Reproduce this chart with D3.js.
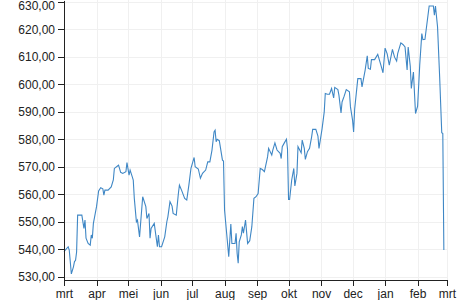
<!DOCTYPE html>
<meta charset="utf-8">
<style>
body { margin: 0; background: #fff; }
.grid line { stroke: #f0f0f0; shape-rendering: crispEdges; }
.axis text { font-family: "Liberation Sans", Arial, sans-serif; font-size: 12px; fill: #222; }
.axis path, .axis line { stroke: #222; shape-rendering: crispEdges; }
.line { fill: none; stroke: #3f87c5; stroke-width: 1.1; }
</style>
<body>
<script src="https://d3js.org/d3.v7.min.js"></script>
<script>

// closing values, one per trading day
var dates = [
  "2021-03-01","2021-03-05","2021-03-06","2021-03-08","2021-03-10","2021-03-11","2021-03-12","2021-03-13","2021-03-14","2021-03-18",
  "2021-03-20","2021-03-21","2021-03-22","2021-03-24","2021-03-26","2021-03-27","2021-03-28","2021-03-29","2021-04-01","2021-04-03",
  "2021-04-05","2021-04-07","2021-04-08","2021-04-09","2021-04-12","2021-04-15","2021-04-17","2021-04-18","2021-04-21","2021-04-22",
  "2021-04-24","2021-04-26","2021-04-29","2021-04-30","2021-05-02","2021-05-03","2021-05-05","2021-05-06","2021-05-07","2021-05-09",
  "2021-05-10","2021-05-12","2021-05-15","2021-05-18","2021-05-19","2021-05-21","2021-05-22","2021-05-23","2021-05-26","2021-05-29",
  "2021-05-30","2021-05-31","2021-06-02","2021-06-05","2021-06-07","2021-06-08","2021-06-10","2021-06-12","2021-06-13","2021-06-16",
  "2021-06-18","2021-06-19","2021-06-21","2021-06-24","2021-06-26","2021-06-28","2021-06-30","2021-07-03","2021-07-04","2021-07-07",
  "2021-07-09","2021-07-11","2021-07-14","2021-07-16","2021-07-18","2021-07-20","2021-07-22","2021-07-23","2021-07-24","2021-07-25",
  "2021-07-27","2021-07-30","2021-07-31","2021-08-01","2021-08-03","2021-08-05","2021-08-07","2021-08-08","2021-08-11","2021-08-12",
  "2021-08-13","2021-08-14","2021-08-15","2021-08-17","2021-08-18","2021-08-19","2021-08-21","2021-08-23","2021-08-25","2021-08-27",
  "2021-08-29","2021-08-31","2021-09-02","2021-09-04","2021-09-06","2021-09-08","2021-09-11","2021-09-12","2021-09-15","2021-09-16",
  "2021-09-18","2021-09-20","2021-09-23","2021-09-24","2021-09-25","2021-09-27","2021-09-29","2021-09-30","2021-10-01","2021-10-02",
  "2021-10-04","2021-10-06","2021-10-07","2021-10-09","2021-10-10","2021-10-12","2021-10-13","2021-10-14","2021-10-16","2021-10-17",
  "2021-10-19","2021-10-21","2021-10-23","2021-10-24","2021-10-27","2021-10-29","2021-10-30","2021-11-01","2021-11-02","2021-11-04",
  "2021-11-05","2021-11-07","2021-11-09","2021-11-11","2021-11-13","2021-11-14","2021-11-17","2021-11-18","2021-11-20","2021-11-21",
  "2021-11-23","2021-11-25","2021-11-28","2021-11-29","2021-12-01","2021-12-02","2021-12-03","2021-12-06","2021-12-09","2021-12-10",
  "2021-12-13","2021-12-15","2021-12-16","2021-12-18","2021-12-19","2021-12-22","2021-12-25","2021-12-28","2021-12-30","2022-01-01",
  "2022-01-03","2022-01-05","2022-01-08","2022-01-10","2022-01-12","2022-01-13","2022-01-16","2022-01-18","2022-01-20","2022-01-22",
  "2022-01-23","2022-01-25","2022-01-26","2022-01-28","2022-01-30","2022-02-01","2022-02-03","2022-02-05","2022-02-06","2022-02-08",
  "2022-02-12","2022-02-16","2022-02-17","2022-02-18","2022-02-20","2022-02-22","2022-02-24","2022-02-25","2022-02-26"
];

var values = [
  539.1,540.9,539.7,531.0,533.6,535.5,536.0,539.0,552.4,552.4,
  547.6,550.6,544.0,542.1,541.5,545.2,544.0,549.4,555.5,561.2,
  562.4,562.0,559.7,561.5,561.5,562.7,565.2,569.4,570.3,570.6,
  568.0,567.6,568.2,571.5,567.0,568.8,566.4,565.2,558.5,550.0,
  550.6,544.5,559.1,555.5,551.2,553.0,544.0,547.6,549.4,540.9,
  545.2,540.9,540.9,544.5,550.0,551.8,557.3,555.7,553.0,552.4,
  560.3,563.3,561.5,558.5,557.9,563.3,569.4,573.4,570.0,569.2,
  565.8,567.6,568.8,571.8,571.8,576.0,582.7,583.3,579.1,580.0,
  579.5,572.4,572.1,554.3,545.8,537.3,549.2,542.1,542.1,545.8,
  538.5,534.9,542.7,545.2,548.2,545.8,550.6,542.1,543.1,548.2,
  558.5,559.1,560.3,569.4,569.0,568.2,573.6,576.7,574.3,576.1,
  578.7,576.1,574.9,573.0,577.3,578.7,580.0,576.5,558.1,558.1,
  565.2,569.4,563.0,567.6,577.3,575.8,575.1,579.7,576.7,572.7,
  575.5,576.7,580.9,583.6,583.6,581.2,576.7,581.5,584.0,590.0,
  596.7,596.4,596.4,598.5,595.1,598.9,598.1,596.1,589.6,593.6,
  595.7,598.1,597.3,591.8,587.0,582.7,591.0,602.1,602.1,599.1,
  605.2,610.4,605.8,605.5,609.0,609.0,610.9,607.0,604.2,613.2,
  611.1,607.0,612.7,609.9,608.5,611.2,615.1,614.5,613.6,605.2,
  613.6,606.6,598.5,604.5,589.4,592.1,607.0,618.5,616.3,616.4,
  628.5,628.5,625.2,628.5,620.9,602.7,582.4,582.1,539.7
];

// axis ticks and labels
var yTicks = [530, 540, 550, 560, 570, 580, 590, 600, 610, 620, 630];
var monthNames = ["jan", "feb", "mrt", "apr", "mei", "jun", "jul", "aug", "sep", "okt", "nov", "dec"];
var xStart = "2021-03-01", xEnd = "2022-03-01";

var margin = {top: 0, right: 13, bottom: 20, left: 64},
    width = 460 - margin.left - margin.right,
    height = 300 - margin.top - margin.bottom;

var parseDate = d3.timeParse("%Y-%m-%d");
var data = dates.map(function(d, i) { return {date: parseDate(d), value: values[i]}; });

var x = d3.scaleTime()
  .domain([parseDate(xStart), parseDate(xEnd)])
  .range([0, width]);
var y = d3.scaleLinear()
  .domain([528.8, 630.7])
  .range([height, 0]);

var nl = d3.formatLocale({decimal: ",", thousands: ".", grouping: [3], currency: ["€", ""]});
var fmt = nl.format(".2f");

var svg = d3.select("body").append("svg")
  .attr("width", 460)
  .attr("height", 300)
  .append("g")
  .attr("transform", "translate(" + margin.left + "," + margin.top + ")");

var monthTicks = d3.timeMonth.range(parseDate(xStart), d3.timeDay.offset(parseDate(xEnd), 1));

// grid
var grid = svg.append("g").attr("class", "grid");
grid.selectAll(".h").data(yTicks).enter().append("line")
  .attr("x1", 0).attr("x2", width)
  .attr("y1", function(d) { return Math.round(y(d)) + 0.5; })
  .attr("y2", function(d) { return Math.round(y(d)) + 0.5; });
grid.selectAll(".v").data(monthTicks).enter().append("line")
  .attr("y1", 0).attr("y2", height)
  .attr("x1", function(d) { return Math.round(x(d)) + 0.5; })
  .attr("x2", function(d) { return Math.round(x(d)) + 0.5; });

// line
svg.append("path")
  .datum(data)
  .attr("class", "line")
  .attr("d", d3.line()
    .x(function(d) { return x(d.date); })
    .y(function(d) { return y(d.value); }));

// axes
svg.append("g")
  .attr("class", "axis")
  .attr("transform", "translate(0," + height + ")")
  .call(d3.axisBottom(x).tickValues(monthTicks).tickSizeOuter(0)
    .tickFormat(function(d) { return monthNames[d.getMonth()]; }));

var yAxis = svg.append("g")
  .attr("class", "axis")
  .call(d3.axisLeft(y).tickValues(yTicks).tickSizeOuter(0).tickFormat(fmt));

// keep the top label inside the picture
yAxis.selectAll(".tick text")
  .attr("y", function(d) { return Math.max(0, 6 - y(d)); });

</script>
</body>
